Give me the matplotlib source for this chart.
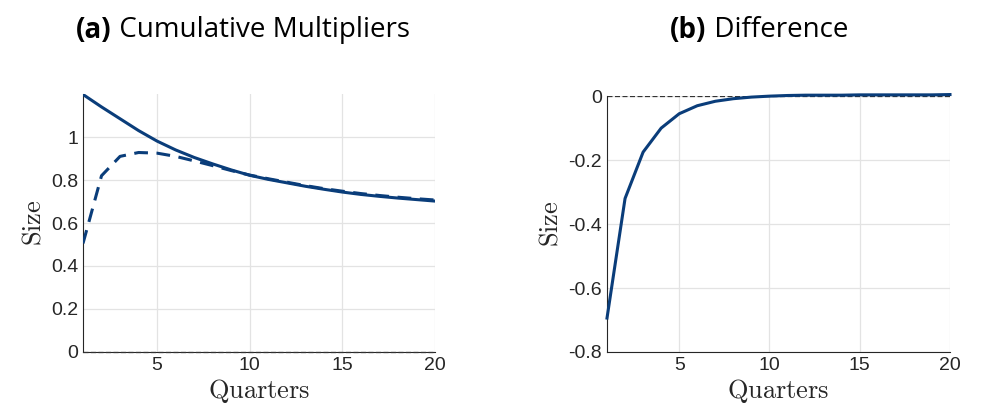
import numpy as np
import matplotlib
matplotlib.use('Agg')
import matplotlib.pyplot as plt

# Data
quarters = np.arange(1, 21)
solid = [1.198, 1.14, 1.085, 1.03, 0.981, 0.94, 0.905, 0.875, 0.847, 0.822,
         0.803, 0.787, 0.771, 0.757, 0.744, 0.733, 0.724, 0.716, 0.709, 0.702]
dashed = [0.505, 0.82, 0.91, 0.928, 0.925, 0.91, 0.889, 0.867, 0.844, 0.823,
          0.806, 0.790, 0.774, 0.760, 0.748, 0.737, 0.728, 0.720, 0.713, 0.707]
diff = [-0.694, -0.32, -0.175, -0.10, -0.055, -0.03, -0.016, -0.008, -0.003, 0.0,
        0.002, 0.003, 0.003, 0.003, 0.004, 0.004, 0.004, 0.004, 0.004, 0.005]

left_yticks = [0, 0.2, 0.4, 0.6, 0.8, 1]
left_yticklabels = ['0', '0.2', '0.4', '0.6', '0.8', '1']
right_yticks = [-0.8, -0.6, -0.4, -0.2, 0]
right_yticklabels = ['-0.8', '-0.6', '-0.4', '-0.2', '0']
xticks = [5, 10, 15, 20]
titles = [('(a)', ' Cumulative Multipliers', 0.246), ('(b)', ' Difference', 0.769)]

plt.rcParams['mathtext.fontset'] = 'cm'
plt.rcParams['font.family'] = ['Liberation Sans', 'DejaVu Sans']

blue = '#0a3d7a'

fig = plt.figure(figsize=(9.87, 4.18), dpi=100)
ax1 = fig.add_axes([0.0841, 0.158, 0.3566, 0.617])
ax2 = fig.add_axes([0.615, 0.158, 0.3475, 0.612])

def style(ax):
    ax.grid(True, color='#e3e3e3', linewidth=0.9)
    ax.set_axisbelow(True)
    for s in ['top', 'right']:
        ax.spines[s].set_visible(False)
    for s in ['left', 'bottom']:
        ax.spines[s].set_color('#262626')
        ax.spines[s].set_linewidth(0.8)
    ax.tick_params(direction='in', length=0, labelsize=14, colors='#262626')
    ax.set_xlim(1, 20)
    ax.set_xticks(xticks)
    ax.set_xlabel(r'$\mathrm{Quarters}$', fontsize=19, labelpad=2, color='#262626')
    ax.set_ylabel(r'$\mathrm{Size}$', fontsize=19, labelpad=4, color='#262626')

# (a)
ax1.plot(quarters, solid, color=blue, linewidth=2.2, zorder=3)
ax1.plot(quarters, dashed, color=blue, linewidth=2.2, linestyle=(0, (4.5, 2.8)), zorder=3)
ax1.axhline(0, color='#333333', linewidth=0.9, linestyle=(0, (4, 2)), zorder=4, clip_on=False)
ax1.set_ylim(0, 1.2)
ax1.set_yticks(left_yticks)
ax1.set_yticklabels(left_yticklabels)
style(ax1)

# (b)
ax2.axhline(0, color='#333333', linewidth=0.9, linestyle=(0, (4, 2)), zorder=2)
ax2.plot(quarters, diff, color=blue, linewidth=2.2, zorder=3, clip_on=False)
ax2.set_ylim(-0.8, 0)
ax2.set_yticks(right_yticks)
ax2.set_yticklabels(right_yticklabels)
style(ax2)

# bold label + regular title, centred together
renderer = fig.canvas.get_renderer()
for lab, rest, cx in titles:
    t1 = fig.text(0, 0.928, lab, fontsize=20, fontweight='bold', family='Open Sans',
                  ha='left', va='center')
    t2 = fig.text(0, 0.928, rest, fontsize=20, family='Open Sans',
                  ha='left', va='center')
    w1 = t1.get_window_extent(renderer).width / fig.bbox.width
    w2 = t2.get_window_extent(renderer).width / fig.bbox.width
    x0 = cx - (w1 + w2) / 2
    t1.set_x(x0)
    t2.set_x(x0 + w1)

fig.savefig('out.png', dpi=100)
